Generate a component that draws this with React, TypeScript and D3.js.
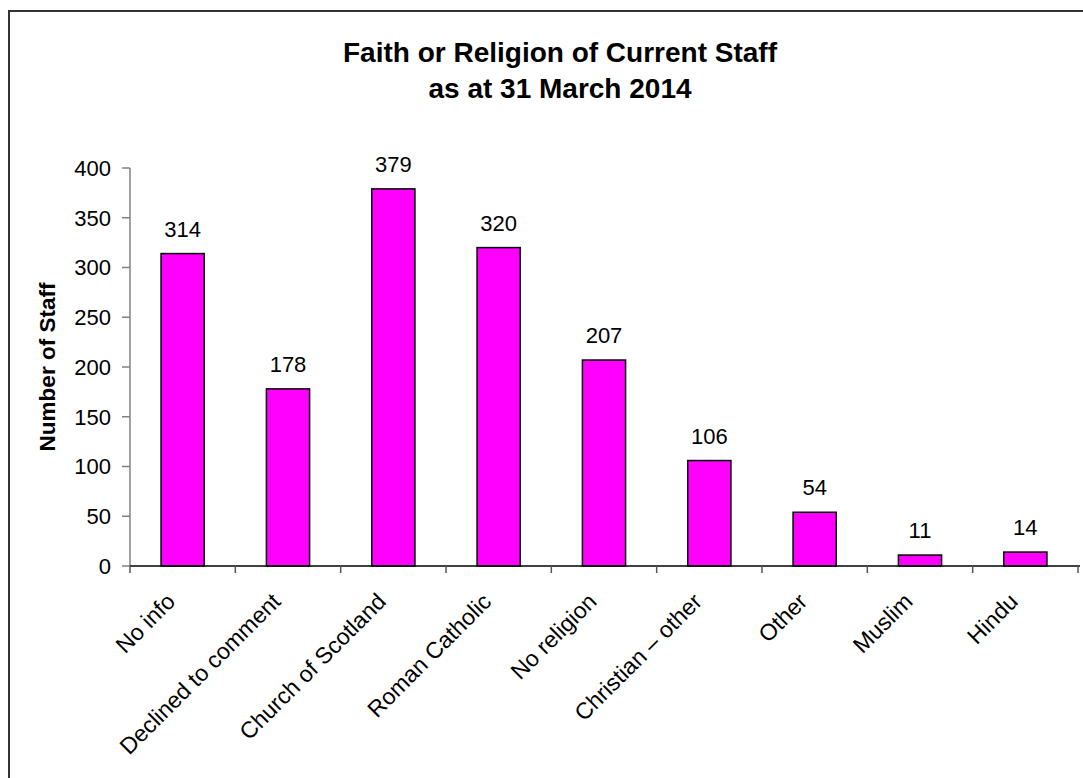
import React from "react";
import * as d3 from "d3";

const categories = [
  "No info",
  "Declined to comment",
  "Church of Scotland",
  "Roman Catholic",
  "No religion",
  "Christian – other",
  "Other",
  "Muslim",
  "Hindu",
];
const values = [314, 178, 379, 320, 207, 106, 54, 11, 14];
const yTicks = [0, 50, 100, 150, 200, 250, 300, 350, 400];
const titleLines = ["Faith or Religion of Current Staff", "as at 31 March 2014"];
const yLabel = "Number of Staff";

const W = 1083;
const H = 778;
const plotLeft = 130;
const plotRight = 1078;
const plotTop = 168;
const plotBottom = 566;
const FONT = "'Liberation Sans', Arial, sans-serif";

export default function App() {
  const x = d3
    .scaleBand<string>()
    .domain(categories)
    .range([plotLeft, plotRight])
    .paddingInner(0)
    .paddingOuter(0);
  const y = d3.scaleLinear().domain([0, 400]).range([plotBottom, plotTop]);
  const bw = x.bandwidth();
  const barW = bw * 0.41;

  return (
    <svg
      width={W}
      height={H}
      style={{ position: "absolute", left: 0, top: 0, background: "#fff" }}
      fontFamily={FONT}
    >
      <rect x={0} y={0} width={W} height={H} fill="#fff" />
      <rect x={9} y={11} width={W + 20} height={H + 20} fill="none" stroke="#333" strokeWidth={2} />
      {titleLines.map((t, i) => (
        <text
          key={i}
          x={560}
          y={62 + i * 36}
          textAnchor="middle"
          fontSize={28}
          fontWeight="bold"
          fill="#000"
        >
          {t}
        </text>
      ))}
      <text
        transform={`translate(55, ${(plotTop + plotBottom) / 2}) rotate(-90)`}
        textAnchor="middle"
        fontSize={22.5}
        fontWeight="bold"
        fill="#000"
      >
        {yLabel}
      </text>
      {/* y axis */}
      <line x1={plotLeft} x2={plotLeft} y1={plotTop} y2={plotBottom} stroke="#808080" strokeWidth={1.5} />
      {yTicks.map((t) => (
        <g key={t}>
          <line x1={plotLeft - 8} x2={plotLeft} y1={y(t)} y2={y(t)} stroke="#808080" strokeWidth={1.5} />
          <text x={111} y={y(t)} dy="0.36em" textAnchor="end" fontSize={22} fill="#000">
            {t}
          </text>
        </g>
      ))}
      {/* bars */}
      {categories.map((c, i) => {
        const cx = (x(c) as number) + bw / 2;
        return (
          <g key={c}>
            <rect
              x={cx - barW / 2}
              y={y(values[i])}
              width={barW}
              height={plotBottom - y(values[i])}
              fill="#FF00FF"
              stroke="#000"
              strokeWidth={1.5}
            />
            <text x={cx} y={y(values[i]) - 17} textAnchor="middle" fontSize={22} fill="#000">
              {values[i]}
            </text>
            <text
              transform={`translate(${cx - 6}, 603) rotate(-45)`}
              textAnchor="end"
              fontSize={23}
              fill="#000"
            >
              {c}
            </text>
          </g>
        );
      })}
      {/* x axis */}
      <line x1={plotLeft} x2={plotRight + 2} y1={plotBottom} y2={plotBottom} stroke="#000" strokeWidth={1.5} />
      {d3.range(categories.length + 1).map((i) => {
        const tx = plotLeft + i * bw;
        return <line key={i} x1={tx} x2={tx} y1={plotBottom} y2={plotBottom + 7} stroke="#555" strokeWidth={1.5} />;
      })}
    </svg>
  );
}
